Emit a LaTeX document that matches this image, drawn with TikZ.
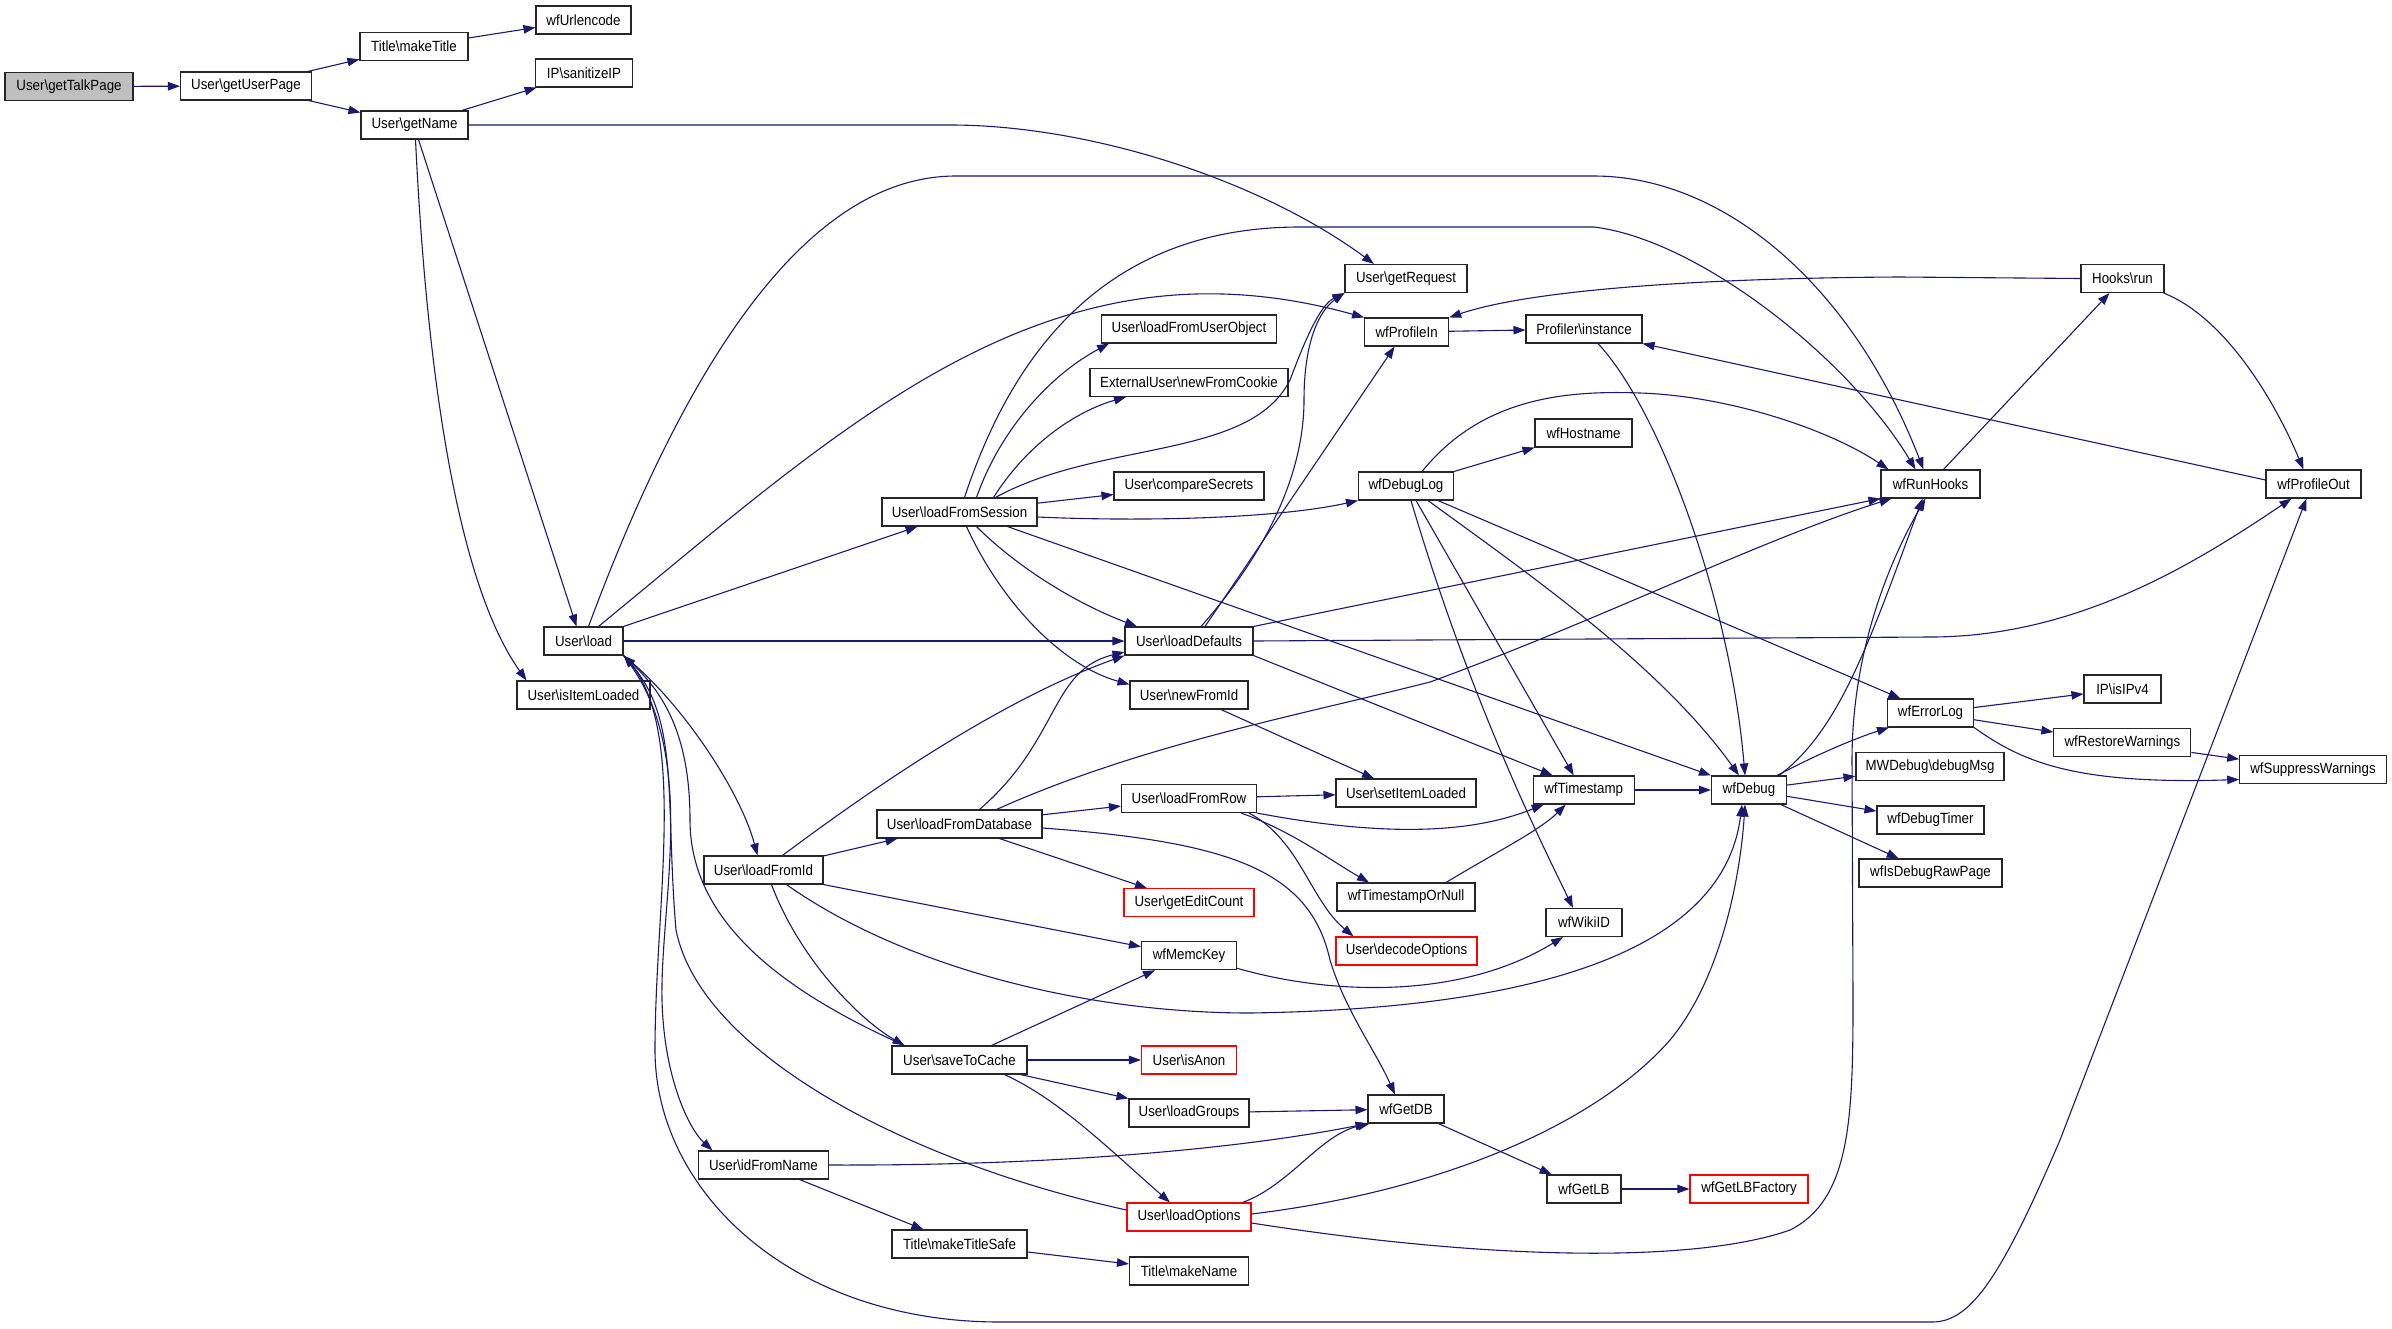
\documentclass[tikz,border=0pt]{standalone}
\usepackage{fontspec}
\setmainfont{Liberation Sans}[FakeStretch=0.9]
\usetikzlibrary{arrows.meta, positioning}
\definecolor{edgeblue}{HTML}{191970}
\definecolor{focusgray}{HTML}{BFBFBF}
\newcommand{\bsl}{\textbackslash}

\begin{document}
\begin{tikzpicture}[
    x=1pt, y=-1pt,
    font=\fontsize{14.8}{17}\selectfont,
    func/.style={rectangle, draw=black!85, line width=1.1pt, fill=white, minimum height=28pt, inner sep=0pt, align=center},
    undoc/.style={func, draw=red},
    focus/.style={func, fill=focusgray},
    call/.style={-{Triangle[length=12pt, width=8.5pt]}, draw=edgeblue, line width=1.1pt}
]
\useasboundingbox (0,0) rectangle (2392,1328);

% Entry point and first callees
\node[focus, minimum width=128pt] (gtp) at (69,86.5) {User\bsl getTalkPage};
\node[func, minimum width=131pt] (gup) at (246,86) {User\bsl getUserPage};
\node[func, minimum width=108pt] (mktitle) at (414,46.5) {Title\bsl makeTitle};
\node[func, minimum width=107pt] (getname) at (414.5,125) {User\bsl getName};
\node[func, minimum width=95pt] (urlenc) at (583.5,20) {wfUrlencode};
\node[func, minimum width=97pt] (sanip) at (584,73) {IP\bsl sanitizeIP};
\node[func, minimum width=79pt] (load) at (583.5,641) {User\bsl load};
\node[func, minimum width=133pt] (isloaded) at (583.5,695) {User\bsl isItemLoaded};

% User loaders
\node[func, minimum width=119pt] (lfid) at (763.5,870) {User\bsl loadFromId};
\node[func, minimum width=130pt] (idfname) at (763.5,1165) {User\bsl idFromName};
\node[func, minimum width=155pt] (lfsession) at (959.5,512) {User\bsl loadFromSession};
\node[func, minimum width=165pt] (lfdb) at (959.5,824) {User\bsl loadFromDatabase};
\node[func, minimum width=135pt] (savecache) at (959.5,1060) {User\bsl saveToCache};
\node[func, minimum width=135pt] (mktsafe) at (959.5,1244) {Title\bsl makeTitleSafe};

% Middle column
\node[func, minimum width=175pt] (lfuobj) at (1189,329) {User\bsl loadFromUserObject};
\node[func, minimum width=198pt] (newcookie) at (1189,382.5) {ExternalUser\bsl newFromCookie};
\node[func, minimum width=150pt] (cmpsec) at (1189,486) {User\bsl compareSecrets};
\node[func, minimum width=128pt] (ldefaults) at (1189,641) {User\bsl loadDefaults};
\node[func, minimum width=118pt] (newfid) at (1189,695) {User\bsl newFromId};
\node[func, minimum width=135pt] (lfrow) at (1189,798.5) {User\bsl loadFromRow};
\node[undoc, minimum width=130pt] (editcount) at (1189,902.7) {User\bsl getEditCount};
\node[func, minimum width=95pt] (memckey) at (1189,955.7) {wfMemcKey};
\node[undoc, minimum width=95pt] (isanon) at (1189,1060) {User\bsl isAnon};
\node[func, minimum width=120pt] (lgroups) at (1189,1113) {User\bsl loadGroups};
\node[undoc, minimum width=124pt] (loptions) at (1189,1217) {User\bsl loadOptions};
\node[func, minimum width=119pt] (mkname) at (1189,1271) {Title\bsl makeName};

\node[func, minimum width=122pt] (getreq) at (1406,278.5) {User\bsl getRequest};
\node[func, minimum width=84pt] (profin) at (1406.6,332) {wfProfileIn};
\node[func, minimum width=95pt] (dbglog) at (1406,486) {wfDebugLog};
\node[func, minimum width=140pt] (setloaded) at (1406,793) {User\bsl setItemLoaded};
\node[func, minimum width=138pt] (tsnull) at (1406,897) {wfTimestampOrNull};
\node[undoc, minimum width=141pt] (decopt) at (1406.5,951) {User\bsl decodeOptions};
\node[func, minimum width=76pt] (getdb) at (1406,1109) {wfGetDB};

\node[func, minimum width=116pt] (profinst) at (1584,329) {Profiler\bsl instance};
\node[func, minimum width=97pt] (hostname) at (1583.5,433) {wfHostname};
\node[func, minimum width=101pt] (tstamp) at (1583.7,790) {wfTimestamp};
\node[func, minimum width=76pt] (wikiid) at (1584,922.5) {wfWikiID};
\node[func, minimum width=74pt] (getlb) at (1584,1189) {wfGetLB};
\node[func, minimum width=75pt] (debug) at (1749,790) {wfDebug};
\node[undoc, minimum width=118pt] (lbfactory) at (1749,1189) {wfGetLBFactory};

% Right side
\node[func, minimum width=99pt] (runhooks) at (1930.5,484) {wfRunHooks};
\node[func, minimum width=86pt] (errlog) at (1930.5,713) {wfErrorLog};
\node[func, minimum width=148pt] (dbgmsg) at (1930,766.5) {MWDebug\bsl debugMsg};
\node[func, minimum width=107pt] (dbgtimer) at (1930.5,820) {wfDebugTimer};
\node[func, minimum width=143pt] (rawpage) at (1930.5,873) {wfIsDebugRawPage};
\node[func, minimum width=83pt] (hooksrun) at (2122.5,278.5) {Hooks\bsl run};
\node[func, minimum width=77pt] (isipv4) at (2122.5,689) {IP\bsl isIPv4};
\node[func, minimum width=137pt] (restwarn) at (2122.4,742.7) {wfRestoreWarnings};
\node[func, minimum width=95pt] (profout) at (2313.5,484) {wfProfileOut};
\node[func, minimum width=146.5pt] (supwarn) at (2313,769.5) {wfSuppressWarnings};

% Calls from the top
\draw[call] (gtp) -- (gup);
\draw[call] (gup) -- (mktitle);
\draw[call] (gup) -- (getname);
\draw[call] (mktitle) -- (urlenc);
\draw[call] (getname) -- (sanip);
\draw[call] (getname.east) -- (950,125) .. controls (1090,125) and (1260,180) .. ([xshift=-32pt]getreq.north);
\draw[call] ([xshift=4pt]getname.south) -- ([xshift=-7pt]load.north);
\draw[call] ([xshift=1pt]getname.south) .. controls (428,400) and (462,590) .. ([xshift=-57pt]isloaded.north);

% User\load
\draw[call] (load.north east) -- ([xshift=-42pt]lfsession.south);
\draw[call] (load) -- (ldefaults);
\draw[call] ([xshift=15pt]load.north) .. controls (850,420) and (1050,230) .. (profin.north west);
\draw[call] ([xshift=5pt]load.north) .. controls (680,380) and (800,176) .. (956,176) -- (1594,176) .. controls (1720,176) and (1850,280) .. ([xshift=-7pt]runhooks.north);
\draw[call] (load.south east) .. controls (680,700) and (740,790) .. ([xshift=-6pt]lfid.north);
\draw[call] (load.south east) .. controls (700,750) and (660,900) .. (662,1000) .. controls (664,1080) and (690,1130) .. ([xshift=-51pt]idfname.north);
\draw[call] (load.south east) .. controls (690,720) and (655,900) .. (655,1050) .. controls (655,1190) and (790,1322) .. (1000,1322) -- (1932,1322) .. controls (1970,1322) and (2000,1280) .. (2060,1140) -- ([xshift=-7pt]profout.south);
\draw[call] ([xshift=-55pt]savecache.north) .. controls (780,990) and (690,920) .. (690,820) .. controls (690,730) and (660,690) .. (load.south east);
\draw[call] ([yshift=7pt]loptions.west) .. controls (900,1160) and (700,1050) .. (676,930) .. controls (665,800) and (680,720) .. (load.south east);

% User\loadFromSession
\draw[call] ([xshift=5pt]lfsession.north) .. controls (1010,360) and (1100,227) .. (1300,227) -- (1594,227) .. controls (1700,240) and (1850,360) .. ([xshift=-15pt]runhooks.north);
\draw[call] ([xshift=17pt]lfsession.north) .. controls (1000,430) and (1050,375) .. ([xshift=-80pt]lfuobj.south);
\draw[call] ([xshift=34pt]lfsession.north) .. controls (1030,440) and (1080,410) .. ([xshift=-63pt]newcookie.south);
\draw[call] ([xshift=36pt]lfsession.north) .. controls (1100,440) and (1250,460) .. (1290,380) .. controls (1305,340) and (1320,305) .. (getreq.south west);
\draw[call] (lfsession) -- (cmpsec);
\draw[call] ([yshift=-5pt]lfsession.east) .. controls (1150,522) and (1280,518) .. (dbglog.south west);
\draw[call] ([xshift=17pt]lfsession.south) .. controls (1020,570) and (1080,605) .. ([xshift=-52pt]ldefaults.north);
\draw[call] ([xshift=7pt]lfsession.south) .. controls (1000,600) and (1060,665) .. ([yshift=-4pt]newfid.north west);
\draw[call] ([xshift=48pt]lfsession.south) -- (debug.north west);

% User\loadDefaults
\draw[call] (ldefaults.north east) -- (runhooks.south west);
\draw[call] (ldefaults.east) -- (1930,637) .. controls (2080,637) and (2200,560) .. ([xshift=-22pt]profout.south);
\draw[call] (ldefaults.south east) -- ([xshift=-31pt]tstamp.north);
\draw[call] ([xshift=12pt]ldefaults.north) .. controls (1260,560) and (1304,480) .. (1304,400) .. controls (1304,340) and (1320,310) .. (getreq.south west);
\draw[call] ([xshift=16pt]ldefaults.north) -- ([xshift=-12pt]profin.south);

% wfDebugLog
\draw[call] (dbglog.north east) -- (hostname.south west);
\draw[call] ([xshift=16pt]dbglog.north) .. controls (1480,400) and (1560,390) .. (1640,393) .. controls (1730,396) and (1830,430) .. ([xshift=8pt]runhooks.north west);
\draw[call] ([xshift=22pt]dbglog.south) .. controls (1530,575) and (1660,665) .. ([xshift=-10pt]debug.north);
\draw[call] ([xshift=10pt]dbglog.south) -- ([xshift=-10pt]tstamp.north);
\draw[call] ([xshift=5pt]dbglog.south) .. controls (1470,700) and (1540,840) .. ([xshift=-11pt]wikiid.north);
\draw[call] ([xshift=32pt]dbglog.south) -- ([xshift=-30pt]errlog.north);

% Profiling and hooks
\draw[call] (profin) -- (profinst);
\draw[call] (hooksrun.west) -- (1900,277) .. controls (1700,278) and (1530,290) .. (profin.north east);
\draw[call] ([xshift=13pt]runhooks.north) -- ([xshift=-13pt]hooksrun.south);
\draw[call] ([xshift=-1pt]hooksrun.south east) .. controls (2220,315) and (2270,390) .. ([xshift=-10pt]profout.north);
\draw[call] ([yshift=4pt]profout.west) -- (profinst.south east);
\draw[call] ([xshift=14pt]profinst.south) .. controls (1660,410) and (1730,600) .. ([xshift=-4pt]debug.north);

% wfDebug and wfErrorLog
\draw[call] (tstamp) -- (debug);
\draw[call] ([xshift=-10pt]debug.north east) .. controls (1810,758) and (1850,740) .. ([xshift=2pt]errlog.south west);
\draw[call] ([xshift=-8pt]debug.north east) .. controls (1840,730) and (1870,640) .. ([xshift=-8pt]runhooks.south);
\draw[call] (debug) -- (dbgmsg);
\draw[call] (debug) -- (dbgtimer);
\draw[call] (debug) -- (rawpage);
\draw[call] (errlog) -- (isipv4);
\draw[call] (errlog) -- (restwarn);
\draw[call] (errlog.south east) .. controls (2020,760) and (2070,785) .. ([yshift=-10pt]supwarn.west);
\draw[call] (restwarn) -- (supwarn);

% User\loadFromId and User\loadFromDatabase
\draw[call] (lfid) -- (lfdb);
\draw[call] ([xshift=19pt]lfid.north) .. controls (870,790) and (1000,700) .. (ldefaults.south west);
\draw[call] (lfid.south east) -- ([yshift=9pt]memckey.west);
\draw[call] ([xshift=23pt]lfid.south) .. controls (900,965) and (1080,1013) .. (1250,1013) .. controls (1450,1010) and (1720,980) .. ([xshift=-7pt]debug.south);
\draw[call] ([xshift=8pt]lfid.south) .. controls (800,960) and (860,1020) .. ([xshift=-55pt]savecache.north);
\draw[call] (lfdb) -- (lfrow);
\draw[call] ([xshift=40pt]lfdb.south) -- ([xshift=-42pt]editcount.north);
\draw[call] ([yshift=-4pt]lfdb.east) .. controls (1230,842) and (1310,870) .. (1330,960) .. controls (1345,1010) and (1375,1050) .. ([xshift=-11pt]getdb.north);
\draw[call] ([xshift=20pt]lfdb.north) .. controls (1060,740) and (1050,670) .. ([yshift=-11pt]ldefaults.west);
\draw[call] ([xshift=37pt]lfdb.north) .. controls (1140,745) and (1300,715) .. (1430,682) .. controls (1600,620) and (1760,540) .. ([xshift=11pt]runhooks.south west);

% User\loadFromRow
\draw[call] (lfrow) -- (setloaded);
\draw[call] (lfrow.south east) .. controls (1400,840) and (1480,830) .. ([xshift=-40pt]tstamp.south);
\draw[call] ([xshift=52pt]lfrow.south) .. controls (1290,830) and (1330,860) .. ([xshift=-37pt]tsnull.north);
\draw[call] ([xshift=60pt]lfrow.south) .. controls (1300,840) and (1310,900) .. ([xshift=-53pt]decopt.north);
\draw[call] ([xshift=32pt]newfid.south) -- ([xshift=-32pt]setloaded.north);
\draw[call] ([xshift=40pt]tsnull.north) .. controls (1500,850) and (1540,830) .. ([xshift=-18pt]tstamp.south);
\draw[call] ([yshift=2pt]memckey.south east) .. controls (1330,995) and (1460,1000) .. ([xshift=-21pt]wikiid.south);

% User\saveToCache and below
\draw[call] ([xshift=32pt]savecache.north) -- ([xshift=-34pt]memckey.south);
\draw[call] (savecache) -- (isanon);
\draw[call] ([xshift=-7pt]savecache.south east) -- (lgroups.north west);
\draw[call] ([xshift=45pt]savecache.south) .. controls (1060,1100) and (1110,1150) .. ([xshift=-19pt]loptions.north);
\draw[call] (lgroups) -- (getdb);
\draw[call] (idfname.east) .. controls (1080,1166) and (1260,1145) .. (getdb.south west);
\draw[call] (idfname) -- (mktsafe);
\draw[call] (mktsafe) -- (mkname);
\draw[call] ([xshift=-9pt]loptions.north east) .. controls (1290,1185) and (1320,1135) .. ([xshift=2pt]getdb.south west);
\draw[call] ([yshift=3pt]loptions.east) .. controls (1450,1190) and (1600,1120) .. (1670,1040) .. controls (1720,980) and (1740,880) .. ([xshift=-4pt]debug.south);
\draw[call] ([yshift=-6pt]loptions.east) .. controls (1500,1262) and (1700,1262) .. (1790,1230) .. controls (1850,1200) and (1853,1120) .. (1853,1000) -- (1852,760) .. controls (1852,650) and (1890,560) .. ([xshift=-5pt]runhooks.south);
\draw[call] (getdb) -- (getlb);
\draw[call] (getlb) -- (lbfactory);

\end{tikzpicture}
\end{document}
